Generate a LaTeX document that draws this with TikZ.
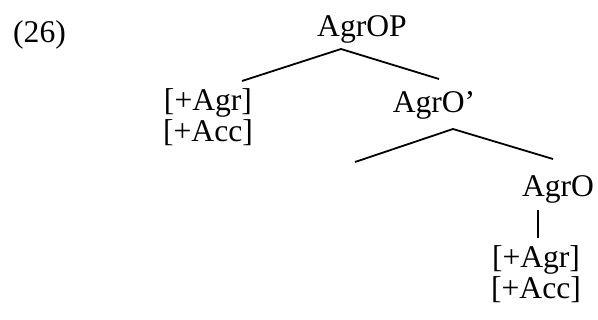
\documentclass[tikz,border=0pt]{standalone}
\usepackage{fontspec}
\setmainfont{Liberation Serif}
\usepackage{tikz}
\tikzset{
  cat/.style={anchor=base, inner sep=0pt, font=\fontsize{15.8}{14}\selectfont},
  feats/.style={cat, align=center},
  branch/.style={line width=0.9pt, black}
}

\begin{document}
\begin{tikzpicture}[x=0.5pt, y=-0.5pt]
  \useasboundingbox (0,0) rectangle (598,320);

  \node[cat] (exnum) at (39.5, 43) {(26)};
  \node[cat] (agrop) at (362, 37) {AgrOP};
  \node[feats] (specfeat) at (208, 141) {[+Agr]\\{}[+Acc]};
  \node[cat] (agrobar) at (434, 113) {AgrO’};
  \node[cat] (agro) at (558, 196) {AgrO};
  \node[feats] (headfeat) at (536, 298) {[+Agr]\\{}[+Acc]};

  % branch ends
  \coordinate (agrop-top) at (341, 49);
  \coordinate (spec-top) at (242, 81);
  \coordinate (agrobar-in) at (439, 79);
  \coordinate (agrobar-top) at (453, 129);
  \coordinate (empty-end) at (355, 162);
  \coordinate (agro-in) at (553, 159);
  \coordinate (agro-bot) at (538, 210);
  \coordinate (head-top) at (538, 238);

  \draw[branch] (spec-top) -- (agrop-top) -- (agrobar-in);
  \draw[branch] (empty-end) -- (agrobar-top) -- (agro-in);
  \draw[branch] (agro-bot) -- (head-top);
\end{tikzpicture}
\end{document}
